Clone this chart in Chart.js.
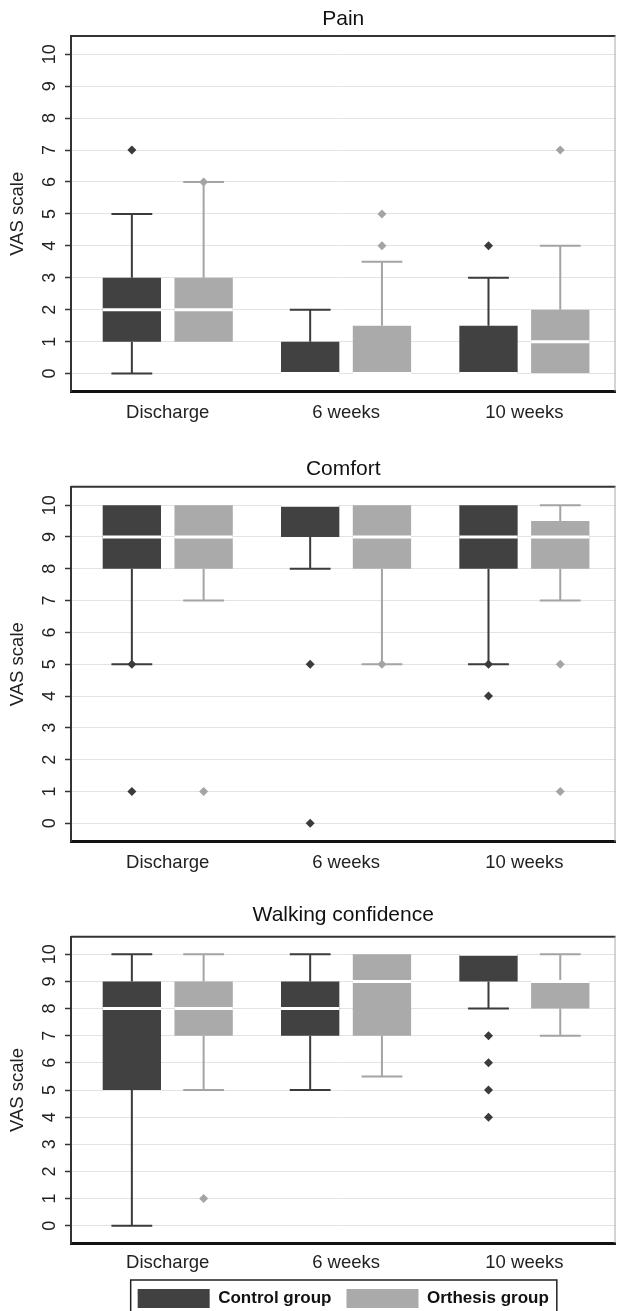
<!DOCTYPE html>
<html>
<head>
<meta charset="utf-8">
<script src="https://cdn.jsdelivr.net/npm/chart.js@4.4.0/dist/chart.umd.min.js"></script>
<style>
  html, body { margin: 0; padding: 0; background: #fff; }
  body { width: 620px; height: 1311px; position: relative; overflow: hidden; }
  .panel { position: absolute; left: 0; width: 620px; }
</style>
</head>
<body>
<div class="panel" style="top:0;height:450px"><canvas id="pain"></canvas></div>
<div class="panel" style="top:450px;height:450px"><canvas id="comfort"></canvas></div>
<div class="panel" style="top:900px;height:411px"><canvas id="walking"></canvas></div>
<script>
// Time points and groups
const categories = ['Discharge', '6 weeks', '10 weeks'];
const groupNames = ['Control group', 'Orthesis group'];
const yTicks = [0, 1, 2, 3, 4, 5, 6, 7, 8, 9, 10];

// Box summaries per time point: [low whisker, Q1, median, Q3, high whisker]
const painControl = [[0, 1, 2, 3, 5], [0, 0, 0, 1, 2], [0, 0, 0, 1.5, 3]];
const painOrthesis = [[1, 1, 2, 3, 6], [0, 0, 0, 1.5, 3.5], [0, 0, 1, 2, 4]];
const painControlOut = [[7], [], [4]];
const painOrthesisOut = [[6], [4, 5], [7]];

const comfortControl = [[5, 8, 9, 10, 10], [8, 9, 10, 10, 10], [5, 8, 9, 10, 10]];
const comfortOrthesis = [[7, 8, 9, 10, 10], [5, 8, 9, 10, 10], [7, 8, 9, 9.5, 10]];
const comfortControlOut = [[5, 1], [5, 0], [5, 4]];
const comfortOrthesisOut = [[1], [5], [5, 1]];

const walkControl = [[0, 5, 8, 9, 10], [5, 7, 8, 9, 10], [8, 9, 10, 10, 10]];
const walkOrthesis = [[5, 7, 8, 9, 10], [5.5, 7, 9, 10, 10], [7, 8, 9, 9, 10]];
const walkControlOut = [[], [], [7, 6, 5, 4]];
const walkOrthesisOut = [[1], [], []];

// Look
const groupFill = ['#414141', '#aaaaaa'];
const groupLine = ['#3b3b3b', '#a4a4a4'];
const catPct = 0.805;
const barPct = 0.8125;
const groupShift = catPct / 4;   // bar centre offset from category centre, in category units

Chart.defaults.font.family = "'Liberation Sans', Arial, sans-serif";
Chart.defaults.color = '#222';

// Whiskers, medians, frame and legend border
const boxPlot = {
    id: 'boxPlot',
    beforeDatasetsDraw(chart) {
        const ctx = chart.ctx;
        const y = chart.scales.y;
        chart.data.datasets.forEach((ds, d) => {
            if (!ds.summary) return;
            const meta = chart.getDatasetMeta(d);
            ctx.save();
            ctx.strokeStyle = ds.whiskerColor;
            ctx.lineWidth = 2;
            meta.data.forEach((el, i) => {
                const [lo, q1, , q3, hi] = ds.summary[i];
                const cap = el.width * 0.35;
                ctx.beginPath();
                if (hi > q3) {
                    ctx.moveTo(el.x, y.getPixelForValue(q3));
                    ctx.lineTo(el.x, y.getPixelForValue(hi));
                    ctx.moveTo(el.x - cap, y.getPixelForValue(hi));
                    ctx.lineTo(el.x + cap, y.getPixelForValue(hi));
                }
                if (lo < q1) {
                    ctx.moveTo(el.x, y.getPixelForValue(q1));
                    ctx.lineTo(el.x, y.getPixelForValue(lo));
                    ctx.moveTo(el.x - cap, y.getPixelForValue(lo));
                    ctx.lineTo(el.x + cap, y.getPixelForValue(lo));
                }
                ctx.stroke();
            });
            ctx.restore();
        });
    },
    afterDatasetsDraw(chart) {
        const ctx = chart.ctx;
        const y = chart.scales.y;
        chart.data.datasets.forEach((ds, d) => {
            if (!ds.summary) return;
            const meta = chart.getDatasetMeta(d);
            ctx.save();
            ctx.strokeStyle = '#ffffff';
            ctx.lineWidth = 3;
            meta.data.forEach((el, i) => {
                const py = y.getPixelForValue(ds.summary[i][2]);
                ctx.beginPath();
                ctx.moveTo(el.x - el.width / 2, py);
                ctx.lineTo(el.x + el.width / 2, py);
                ctx.stroke();
            });
            ctx.restore();
        });
        // frame: top and right edges of the plot
        const a = chart.chartArea;
        ctx.save();
        ctx.strokeStyle = '#333';
        ctx.lineWidth = 2;
        ctx.beginPath();
        ctx.moveTo(a.left, a.top);
        ctx.lineTo(a.right, a.top);
        ctx.stroke();
        ctx.strokeStyle = '#aaa';
        ctx.lineWidth = 1;
        ctx.beginPath();
        ctx.moveTo(a.right - 0.5, a.top);
        ctx.lineTo(a.right - 0.5, a.bottom);
        ctx.stroke();
        ctx.restore();
    },
    afterDraw(chart) {
        const lg = chart.legend;
        if (!lg || !lg.options.display || !lg.legendHitBoxes.length) return;
        const boxes = lg.legendHitBoxes;
        const left = Math.min(...boxes.map(b => b.left)) - 7;
        const right = Math.max(...boxes.map(b => b.left + b.width)) + 8;
        const top = Math.min(...boxes.map(b => b.top)) - 9;
        const ctx = chart.ctx;
        ctx.save();
        ctx.strokeStyle = '#222';
        ctx.lineWidth = 1.5;
        ctx.strokeRect(left, top, right - left, chart.height + 10 - top);
        ctx.restore();
    }
};

function outlierPoints(out, shift) {
    return out.flatMap((vals, i) => vals.map(v => ({ x: i + shift, y: v })));
}

function boxData(summary) {
    return summary.map((s, i) => ({ x: i, y: [s[1], s[3]] }));
}

function makeChart(id, title, control, orthesis, controlOut, orthesisOut, cfg) {
    const ctx = document.getElementById(id);
    const datasets = [
        {
            type: 'scatter', label: 'Control outliers', order: 0,
            data: outlierPoints(controlOut, -groupShift),
            backgroundColor: groupLine[0], borderWidth: 0,
            pointStyle: 'rectRot', pointRadius: 4.5, pointHoverRadius: 4.5
        },
        {
            type: 'scatter', label: 'Orthesis outliers', order: 0,
            data: outlierPoints(orthesisOut, groupShift),
            backgroundColor: groupLine[1], borderWidth: 0,
            pointStyle: 'rectRot', pointRadius: 4.5, pointHoverRadius: 4.5
        },
        {
            label: groupNames[0], order: 1,
            data: boxData(control), summary: control, whiskerColor: groupLine[0],
            backgroundColor: groupFill[0], borderWidth: 0, borderSkipped: false,
            categoryPercentage: catPct, barPercentage: barPct
        },
        {
            label: groupNames[1], order: 1,
            data: boxData(orthesis), summary: orthesis, whiskerColor: groupLine[1],
            backgroundColor: groupFill[1], borderWidth: 0, borderSkipped: false,
            categoryPercentage: catPct, barPercentage: barPct
        }
    ];

    return new Chart(ctx, {
        type: 'bar',
        data: { datasets },
        options: {
            responsive: true,
            maintainAspectRatio: false,
            animation: false,
            events: [],
            layout: { padding: { top: 0, right: 3, bottom: 0, left: 0 } },
            plugins: {
                title: {
                    display: true, text: title, fullSize: false,
                    font: { size: 21, weight: 'normal' }, color: '#111',
                    padding: cfg.titlePad
                },
                legend: cfg.legend ? {
                    display: true, position: 'bottom', fullSize: false, maxHeight: cfg.legendHeight,
                    labels: {
                        filter: item => item.datasetIndex >= 2,
                        boxWidth: 72, boxHeight: 19, padding: 15,
                        font: { size: 17, weight: 'bold' }, color: '#111'
                    }
                } : { display: false },
                tooltip: { enabled: false }
            },
            scales: {
                x: {
                    type: 'linear',
                    offset: false,
                    min: -0.5425, max: 2.511,
                    afterBuildTicks: s => { s.ticks = categories.map((c, i) => ({ value: i })); },
                    afterFit: s => { s.height = cfg.xAxisHeight; },
                    ticks: {
                        callback: v => categories[v],
                        font: { size: 18.5 }, color: '#222', padding: cfg.xLabelPad
                    },
                    grid: { display: false, drawTicks: false, offset: false },
                    border: { display: true, color: '#111', width: 3 }
                },
                y: {
                    min: cfg.yMin, max: cfg.yMax,
                    afterBuildTicks: s => { s.ticks = yTicks.map(v => ({ value: v })); },
                    afterFit: s => { s.width = 71; },
                    ticks: {
                        minRotation: 90, maxRotation: 90, crossAlign: 'center',
                        padding: 5, font: { size: 18 }, color: '#222'
                    },
                    grid: { color: '#e3e3e3', lineWidth: 1, tickColor: '#333', tickLength: 6, tickWidth: 1.5 },
                    border: { display: true, color: '#333', width: 2 },
                    title: {
                        display: true, text: 'VAS scale',
                        font: { size: 18.5 }, color: '#222', padding: { top: 7, bottom: 0 }
                    }
                }
            }
        },
        plugins: [boxPlot]
    });
}

makeChart('pain', 'Pain', painControl, painOrthesis, painControlOut, painOrthesisOut, {
    titlePad: { top: 6.2, bottom: 4.6 }, xAxisHeight: 58.5, xLabelPad: 10,
    yMin: -0.56, yMax: 10.57
});
makeChart('comfort', 'Comfort', comfortControl, comfortOrthesis, comfortControlOut, comfortOrthesisOut, {
    titlePad: { top: 6.2, bottom: 5.3 }, xAxisHeight: 58.3, xLabelPad: 10,
    yMin: -0.58, yMax: 10.58
});
makeChart('walking', 'Walking confidence', walkControl, walkOrthesis, walkControlOut, walkOrthesisOut, {
    titlePad: { top: 3.1, bottom: 8.4 }, xAxisHeight: 30.7, xLabelPad: 8.5,
    legend: true, legendHeight: 37,
    yMin: -0.65, yMax: 10.65
});
</script>
</body>
</html>
